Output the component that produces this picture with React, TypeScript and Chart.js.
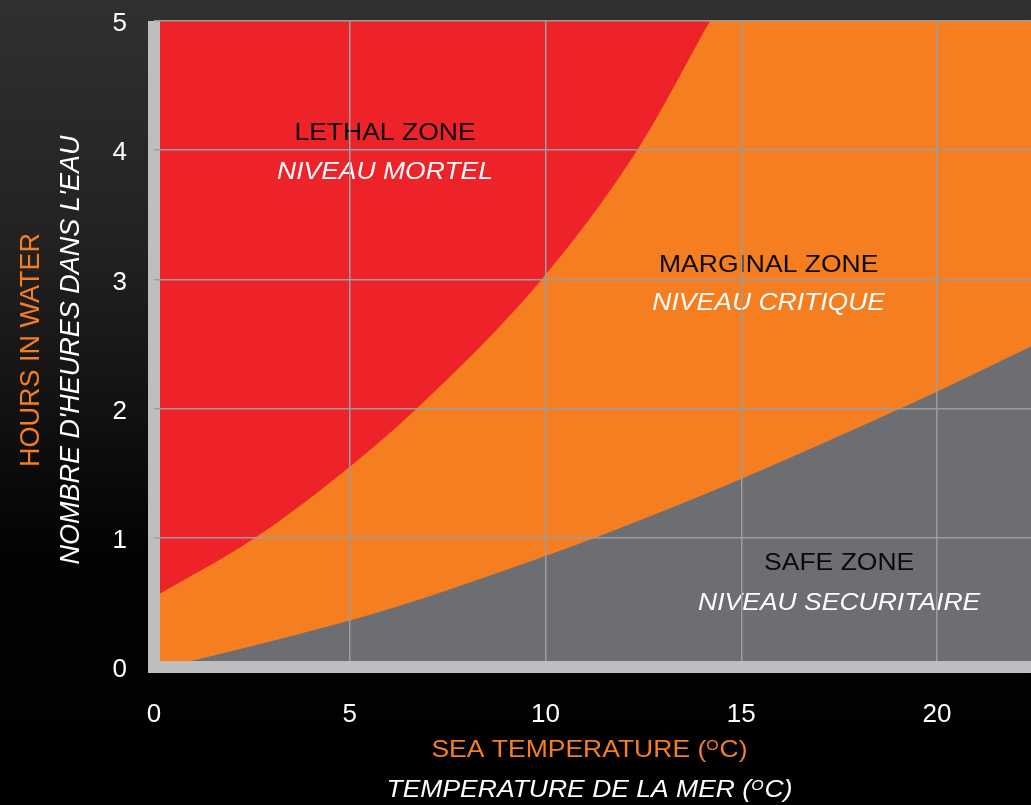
import React, { useEffect, useRef } from "react";
import { Chart, registerables } from "chart.js";

Chart.register(...registerables);

// ---- data ----
const temperatureTicks = [0, 5, 10, 15, 20];
const hourTicks = [0, 1, 2, 3, 4, 5];

// boundary between lethal (red) and marginal (orange) zone
const lethalTemps = [0, 2.58, 5, 6.71, 9.9, 12.34, 14.2];
const lethalHours = [0.54, 1, 1.55, 2, 3, 4, 5];

// boundary between marginal (orange) and safe (gray) zone
const safeTemps = [0.3, 1, 3, 5, 6.03, 10, 11.27, 15, 19.06, 20, 22.4];
const safeHours = [0, 0.05, 0.2, 0.36, 0.45, 0.86, 1, 1.455, 2, 2.13, 2.48];

// zone captions
const zoneNames = ["LETHAL ZONE", "MARGINAL ZONE", "SAFE ZONE"];
const zoneNamesFr = ["NIVEAU MORTEL", "NIVEAU CRITIQUE", "NIVEAU SECURITAIRE"];
const zoneTemps = [5.9, 15.7, 17.5];
const zoneHoursEn = [4.13, 3.11, 0.8];
const zoneHoursFr = [3.83, 2.81, 0.49];

const xTitle = ["SEA TEMPERATURE (", "O", "C)"];
const xTitleFr = ["TEMPERATURE DE LA MER (", "O", "C)"];
const yTitle = "HOURS IN WATER";
const yTitleFr = "NOMBRE D'HEURES DANS L'EAU";

const X_MAX = 22.4;

const RED = "#ee2229";
const ORANGE = "#f47e20";
const GRAY = "#6d6e71";
const BAND = "#bcbec0";
const GRID = "#9a9c9f";
const FONT = "'Liberation Sans', Arial, Helvetica, sans-serif";

function drawSquashed(
  ctx: CanvasRenderingContext2D,
  text: string,
  x: number,
  y: number,
  font: string,
  color: string
) {
  ctx.save();
  ctx.translate(x, y);
  ctx.scale(1, 0.87);
  ctx.font = font;
  ctx.fillStyle = color;
  ctx.textAlign = "center";
  ctx.textBaseline = "middle";
  ctx.fillText(text, 0, 0);
  ctx.restore();
}

function drawSuperTitle(
  ctx: CanvasRenderingContext2D,
  parts: string[],
  cx: number,
  cy: number,
  style: string,
  size: number,
  color: string
) {
  ctx.save();
  ctx.translate(cx, cy);
  ctx.scale(1, 0.87);
  ctx.fillStyle = color;
  ctx.textBaseline = "alphabetic";
  ctx.textAlign = "left";
  const big = `${style} ${size}px ${FONT}`;
  const small = `${style} ${size * 0.6}px ${FONT}`;
  ctx.font = big;
  const w0 = ctx.measureText(parts[0]).width;
  const w2 = ctx.measureText(parts[2]).width;
  ctx.font = small;
  const w1 = ctx.measureText(parts[1]).width + 1;
  const total = w0 + w1 + w2;
  let x = -total / 2;
  const base = size * 0.36;
  ctx.font = big;
  ctx.fillText(parts[0], x, base);
  x += w0;
  ctx.font = small;
  ctx.fillText(parts[1], x, base - size * 0.3);
  x += w1;
  ctx.font = big;
  ctx.fillText(parts[2], x, base);
  ctx.restore();
}

const backgroundPlugin = {
  id: "bgPlugin",
  beforeDraw(chart: any) {
    const { ctx, width, height } = chart;
    ctx.save();
    const g = ctx.createLinearGradient(0, 0, 0, height);
    g.addColorStop(0, "#322f30");
    g.addColorStop(0.28, "#252223");
    g.addColorStop(0.5, "#131212");
    g.addColorStop(0.68, "#030303");
    g.addColorStop(1, "#000000");
    ctx.fillStyle = g;
    ctx.fillRect(0, 0, width, height);
    ctx.restore();
  },
  beforeDatasetsDraw(chart: any) {
    const { ctx, chartArea } = chart;
    ctx.save();
    ctx.fillStyle = ORANGE;
    ctx.fillRect(
      chartArea.left,
      chartArea.top,
      chartArea.right - chartArea.left,
      chartArea.bottom - chartArea.top
    );
    ctx.restore();
  },
  afterDatasetsDraw(chart: any) {
    const { ctx } = chart;
    const xs = chart.scales.x;
    const ys = chart.scales.y;
    const font = `26.5px ${FONT}`;
    const fontI = `italic 26.5px ${FONT}`;
    zoneNames.forEach((name, i) => {
      const px = xs.getPixelForValue(zoneTemps[i]);
      drawSquashed(ctx, name, px, ys.getPixelForValue(zoneHoursEn[i]), font, "#0a0a0a");
      drawSquashed(ctx, zoneNamesFr[i], px, ys.getPixelForValue(zoneHoursFr[i]), fontI, "#ffffff");
    });
  },
  afterDraw(chart: any) {
    const { ctx, chartArea } = chart;
    const cx = (chartArea.left + chartArea.right) / 2 - 3;
    drawSuperTitle(ctx, xTitle, cx, chartArea.bottom + 82, "", 26.5, ORANGE);
    drawSuperTitle(ctx, xTitleFr, cx, chartArea.bottom + 122, "italic", 26.5, "#ffffff");
    const cy = (chartArea.top + chartArea.bottom) / 2 + 6;
    ctx.save();
    ctx.textAlign = "center";
    ctx.textBaseline = "middle";
    ctx.translate(32, cy);
    ctx.rotate(-Math.PI / 2);
    ctx.font = `27px ${FONT}`;
    ctx.fillStyle = ORANGE;
    ctx.fillText(yTitle, 0, 0);
    ctx.restore();
    ctx.save();
    ctx.textAlign = "center";
    ctx.textBaseline = "middle";
    ctx.translate(71, cy);
    ctx.rotate(-Math.PI / 2);
    ctx.font = `italic 27px ${FONT}`;
    ctx.fillStyle = "#ffffff";
    ctx.fillText(yTitleFr, 0, 0);
    ctx.restore();
  },
};

const gridOptions = {
  z: 1,
  color: (c: any) => (c.tick && c.tick.value === 0 ? BAND : GRID),
  lineWidth: (c: any) => (c.tick && c.tick.value === 0 ? 12 : 1.5),
  drawTicks: true,
  tickLength: 6,
  tickColor: (c: any) => (c.tick && c.tick.value === 0 ? BAND : "rgba(0,0,0,0)"),
  tickWidth: (c: any) => (c.tick && c.tick.value === 0 ? 12 : 1),
};

export default function App() {
  const canvasRef = useRef<HTMLCanvasElement | null>(null);

  useEffect(() => {
    document.body.style.margin = "0";
    document.body.style.background = "#000";
    const canvas = canvasRef.current;
    if (!canvas) return;

    const chart = new Chart(canvas, {
      type: "line",
      data: {
        datasets: [
          {
            label: "Lethal",
            data: lethalTemps.map((t, i) => ({ x: t, y: lethalHours[i] })),
            fill: "end",
            backgroundColor: RED,
            borderColor: "rgba(0,0,0,0)",
            borderWidth: 0,
            pointRadius: 0,
            cubicInterpolationMode: "monotone",
          },
          {
            label: "Safe",
            data: safeTemps.map((t, i) => ({ x: t, y: safeHours[i] })),
            fill: "origin",
            backgroundColor: GRAY,
            borderColor: "rgba(0,0,0,0)",
            borderWidth: 0,
            pointRadius: 0,
            cubicInterpolationMode: "monotone",
          },
        ],
      },
      options: {
        animation: false,
        responsive: false,
        devicePixelRatio: 1,
        events: [],
        layout: { padding: { top: 0, right: 0, left: 0, bottom: 0 } },
        plugins: {
          legend: { display: false },
          tooltip: { enabled: false },
          title: { display: false },
        },
        scales: {
          x: {
            type: "linear",
            min: 0,
            max: X_MAX,
            afterBuildTicks: (scale: any) => {
              scale.ticks = temperatureTicks.map((v) => ({ value: v }));
            },
            afterFit: (scale: any) => {
              scale.height = 138;
            },
            border: { display: false },
            grid: gridOptions,
            ticks: {
              color: "#ffffff",
              padding: 26,
              maxRotation: 0,
              font: { family: FONT, size: 26 },
            },
          },
          y: {
            type: "linear",
            min: 0,
            max: 5,
            afterBuildTicks: (scale: any) => {
              scale.ticks = hourTicks.map((v) => ({ value: v }));
            },
            afterFit: (scale: any) => {
              scale.width = 154;
            },
            border: { display: false },
            grid: gridOptions,
            ticks: {
              color: "#ffffff",
              padding: 21,
              labelOffset: 3,
              font: { family: FONT, size: 26, lineHeight: 0.001 },
            },
          },
        },
      },
      plugins: [backgroundPlugin],
    } as any);

    return () => {
      chart.destroy();
    };
  }, []);

  return (
    <div style={{ width: 1031, height: 805, background: "#000" }}>
      <canvas ref={canvasRef} width={1031} height={805} style={{ display: "block" }} />
    </div>
  );
}
